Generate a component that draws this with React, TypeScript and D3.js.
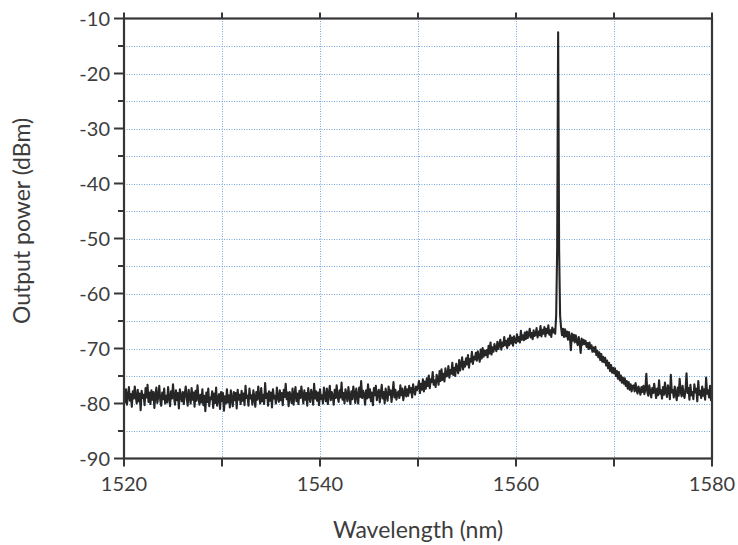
import React from "react";
import * as d3 from "d3";

// Spectrum sampled every 0.1 nm from 1520 nm to 1580 nm (dBm)
const startWavelength = 1520;
const sampleStep = 0.1;
const powerDbm: number[] = [
  -78.1, -79.8, -77.4, -80.2, -78.6, -77.0, -79.5, -78.3, -80.6, -77.8,
  -79.1, -76.9, -78.8, -80.0, -77.5, -79.6, -78.2, -81.2, -77.7, -79.0,
  -78.4, -80.3, -77.2, -78.9, -76.6, -79.7, -78.0, -80.1, -77.6, -79.3,
  -77.9, -80.8, -78.5, -77.1, -79.9, -78.7, -76.8, -79.4, -80.4, -78.0,
  -79.2, -77.3, -80.0, -78.6, -79.8, -77.0, -78.9, -80.5, -77.8, -79.1,
  -76.5, -78.8, -80.2, -77.6, -79.4, -78.1, -80.9, -77.4, -78.7, -79.6,
  -77.9, -80.1, -78.3, -76.9, -79.0, -80.4, -77.5, -78.8, -80.0, -77.2,
  -79.3, -78.0, -80.6, -77.7, -79.5, -76.7, -78.9, -80.2, -78.4, -79.8,
  -77.4, -80.3, -78.6, -81.4, -78.0, -79.7, -77.3, -80.5, -78.9, -79.2,
  -77.8, -80.8, -78.2, -79.9, -77.1, -80.4, -79.0, -78.3, -81.0, -77.9,
  -79.6, -78.1, -81.3, -78.7, -80.0, -77.4, -79.8, -78.5, -80.7, -77.6,
  -79.2, -80.5, -77.9, -79.4, -78.1, -80.9, -77.5, -79.3, -78.4, -80.1,
  -77.7, -79.5, -78.2, -80.3, -76.8, -79.0, -78.6, -80.4, -77.3, -79.1,
  -78.5, -80.2, -77.6, -78.9, -80.6, -77.9, -79.3, -76.9, -78.8, -80.0,
  -77.2, -79.6, -78.4, -80.1, -76.3, -79.0, -78.2, -80.4, -77.8, -79.5,
  -78.0, -80.7, -77.4, -79.1, -78.6, -80.0, -77.1, -78.9, -79.7, -77.6,
  -79.4, -78.1, -80.3, -77.5, -78.8, -76.4, -79.2, -78.0, -80.5, -77.9,
  -78.7, -79.9, -77.3, -80.2, -78.4, -77.0, -79.6, -78.2, -80.1, -77.7,
  -79.0, -76.9, -78.6, -80.0, -77.6, -79.3, -78.1, -80.4, -77.2, -78.8,
  -79.7, -77.5, -78.3, -80.2, -76.4, -79.1, -77.8, -79.5, -78.0, -80.3,
  -77.4, -79.2, -78.5, -80.0, -77.1, -78.7, -79.6, -77.3, -80.1, -78.2,
  -76.8, -79.4, -77.9, -78.6, -80.2, -77.5, -79.0, -76.7, -78.8, -79.7,
  -77.6, -78.9, -76.2, -79.3, -78.1, -80.0, -77.4, -78.5, -79.6, -77.0,
  -78.7, -80.1, -77.8, -79.2, -76.9, -78.4, -79.9, -77.3, -78.6, -80.0,
  -77.1, -78.8, -75.9, -79.0, -77.7, -78.3, -80.2, -77.6, -79.1, -76.5,
  -78.9, -77.4, -79.6, -78.0, -80.3, -77.2, -78.5, -76.8, -79.4, -78.1,
  -77.5, -79.8, -78.2, -76.6, -79.1, -77.9, -80.0, -77.3, -78.6, -79.5,
  -76.9, -78.4, -77.6, -79.7, -78.0, -76.1, -78.9, -77.5, -79.3, -78.2,
  -77.8, -79.0, -76.7, -78.5, -77.3, -79.4, -78.1, -76.9, -78.7, -77.4,
  -78.6, -76.8, -78.0, -77.2, -78.9, -76.5, -77.8, -78.4, -76.9, -77.6,
  -77.0, -75.9, -78.1, -76.4, -77.5, -75.6, -77.8, -76.0, -77.3, -75.4,
  -76.8, -74.9, -77.2, -75.6, -76.1, -74.3, -76.6, -75.8, -77.0, -74.8,
  -75.4, -76.6, -74.1, -75.9, -73.8, -75.7, -74.6, -76.0, -73.6, -75.1,
  -74.9, -73.2, -75.3, -73.9, -74.6, -72.6, -74.8, -73.5, -75.0, -72.8,
  -73.6, -74.5, -72.1, -74.0, -72.9, -71.6, -73.8, -72.4, -73.3, -71.8,
  -72.9, -71.2, -73.5, -71.9, -72.4, -70.6, -72.8, -71.5, -72.0, -70.8,
  -72.2, -70.5, -71.6, -72.4, -70.2, -71.8, -69.9, -71.5, -70.4, -71.2,
  -70.3, -71.6, -69.5, -70.9, -68.9, -71.1, -69.8, -70.6, -69.2, -70.0,
  -70.5, -68.8, -70.1, -69.3, -68.4, -70.2, -68.9, -69.6, -67.9, -69.4,
  -68.6, -69.9, -68.2, -69.4, -67.6, -69.1, -68.0, -69.5, -67.8, -68.7,
  -69.0, -67.4, -68.7, -67.9, -68.9, -66.8, -68.4, -67.6, -68.5, -67.1,
  -68.3, -66.9, -68.1, -67.5, -66.4, -68.0, -67.2, -68.3, -66.7, -67.7,
  -67.5, -66.3, -68.0, -66.9, -67.6, -65.9, -67.8, -66.6, -67.3, -66.1,
  -67.8, -66.4, -67.2, -65.8, -67.5, -66.7, -67.9, -66.2, -67.1, -66.5,
  -67.3, -64.0, -52.0, -12.5, -52.0, -64.0, -66.2, -67.6, -66.4, -67.9,
  -66.5, -67.8, -66.9, -68.4, -67.0, -68.0, -70.3, -67.3, -68.6, -67.5,
  -68.9, -67.6, -68.7, -69.4, -67.9, -69.0, -70.8, -68.2, -69.3, -68.4,
  -69.2, -68.6, -69.7, -69.0, -70.1, -68.9, -70.0, -69.4, -70.6, -69.8,
  -70.6, -69.7, -71.2, -70.4, -71.6, -70.7, -72.1, -71.0, -72.4, -71.5,
  -72.5, -71.7, -73.1, -72.2, -73.6, -72.6, -74.1, -73.0, -74.4, -73.5,
  -74.5, -73.6, -75.0, -74.1, -75.5, -74.3, -75.8, -74.9, -76.2, -75.3,
  -76.4, -75.4, -76.8, -75.9, -77.3, -76.1, -77.5, -76.5, -77.8, -76.8,
  -76.7, -77.8, -76.3, -77.5, -78.2, -76.9, -77.6, -78.4, -77.0, -77.9,
  -76.8, -78.3, -77.4, -74.6, -77.9, -78.6, -76.7, -77.8, -78.9, -77.2,
  -78.1, -76.4, -77.7, -79.0, -77.3, -78.5, -75.8, -78.2, -77.6, -79.1,
  -77.0, -78.4, -76.2, -77.9, -78.8, -76.7, -77.5, -79.2, -74.8, -78.0,
  -77.6, -78.9, -76.9, -78.2, -79.4, -77.1, -78.6, -75.5, -77.8, -78.7,
  -76.8, -78.3, -79.0, -77.4, -74.5, -78.1, -77.2, -79.3, -76.6, -78.5,
  -77.9, -79.2, -76.5, -78.0, -77.3, -79.6, -75.9, -78.4, -77.7, -79.0,
  -76.9, -78.6, -77.4, -79.3, -75.3, -78.2, -77.6, -78.9, -76.8, -79.4,
  -77.8,
];

const xTicks = [1520, 1530, 1540, 1550, 1560, 1570, 1580];
const xTickLabels = [1520, 1540, 1560, 1580];
const yMajorTicks = [-90, -80, -70, -60, -50, -40, -30, -20, -10];
const yMinorTicks = [-85, -75, -65, -55, -45, -35, -25, -15];
const xGrid = [1530, 1540, 1550, 1560, 1570];
const yGrid = [-85, -80, -75, -70, -65, -60, -55, -50, -45, -40, -35, -30, -25, -20, -15];

const W = 738;
const H = 545;
const left = 124;
const right = 712;
const top = 18.5;
const bottom = 458.5;

export default function App() {
  const x = d3.scaleLinear().domain([1520, 1580]).range([left, right]);
  const y = d3.scaleLinear().domain([-90, -10]).range([bottom, top]);
  const pts: [number, number][] = powerDbm.map((p, i) => [
    startWavelength + i * sampleStep,
    p,
  ]);
  const line = d3
    .line<[number, number]>()
    .x((d) => x(d[0]))
    .y((d) => y(d[1]));
  const axisColor = "#363636";
  const textColor = "#3d3d3d";
  const font = "Lato, 'Open Sans', sans-serif";
  const gridColor = "#74a6dc";
  const crisp = (v: number) => Math.round(v) + 0.5;

  return (
    <svg
      width={W}
      height={H}
      style={{ position: "absolute", left: 0, top: 0, background: "#fff" }}
    >
      <rect x={0} y={0} width={W} height={H} fill="#fff" />
      {/* grid */}
      {yGrid.map((v) => (
        <line
          key={"gy" + v}
          x1={left}
          x2={right}
          y1={crisp(y(v))}
          y2={crisp(y(v))}
          stroke={gridColor}
          strokeWidth={1}
          strokeDasharray="1,1.5"
        />
      ))}
      {xGrid.map((v) => (
        <line
          key={"gx" + v}
          x1={crisp(x(v))}
          x2={crisp(x(v))}
          y1={top}
          y2={bottom}
          stroke={gridColor}
          strokeWidth={1}
          strokeDasharray="1,1.5"
        />
      ))}
      {/* data */}
      <path
        d={line(pts) || ""}
        fill="none"
        stroke="#262626"
        strokeWidth={2.1}
        strokeLinejoin="round"
      />
      {/* frame */}
      <rect
        x={left}
        y={top}
        width={right - left}
        height={bottom - top}
        fill="none"
        stroke={axisColor}
        strokeWidth={2.2}
      />
      {/* y ticks */}
      {yMajorTicks.map((v) => (
        <line
          key={"ym" + v}
          x1={left - 10}
          x2={left}
          y1={y(v)}
          y2={y(v)}
          stroke={axisColor}
          strokeWidth={2}
        />
      ))}
      {yMinorTicks.map((v) => (
        <line
          key={"yn" + v}
          x1={left - 6}
          x2={left}
          y1={y(v)}
          y2={y(v)}
          stroke={axisColor}
          strokeWidth={2}
        />
      ))}
      {yMajorTicks.map((v) => (
        <text
          key={"yl" + v}
          x={left - 14}
          y={y(v)}
          dy="0.36em"
          textAnchor="end"
          fontFamily={font}
          fontSize={20}
          fill={textColor}
        >
          {v}
        </text>
      ))}
      {/* x ticks bottom and top */}
      {xTicks.map((v) => (
        <g key={"xt" + v}>
          <line
            x1={x(v)}
            x2={x(v)}
            y1={bottom}
            y2={bottom + 8}
            stroke={axisColor}
            strokeWidth={2}
          />
          <line
            x1={x(v)}
            x2={x(v)}
            y1={top - 6}
            y2={top}
            stroke={axisColor}
            strokeWidth={2}
          />
        </g>
      ))}
      {xTickLabels.map((v) => (
        <text
          key={"xl" + v}
          x={x(v)}
          y={491}
          textAnchor="middle"
          fontFamily={font}
          fontSize={20}
          fill={textColor}
        >
          {v}
        </text>
      ))}
      <text
        x={418}
        y={538}
        textAnchor="middle"
        fontFamily={font}
        fontSize={23}
        fill={textColor}
      >
        Wavelength (nm)
      </text>
      <text
        transform={`translate(30,221) rotate(-90)`}
        textAnchor="middle"
        fontFamily={font}
        fontSize={23}
        fill={textColor}
      >
        Output power (dBm)
      </text>
    </svg>
  );
}
